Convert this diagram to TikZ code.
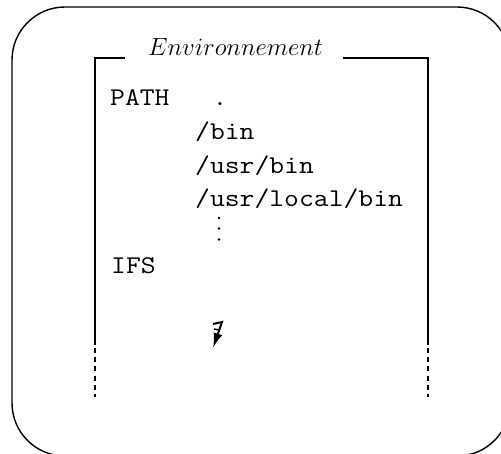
\documentclass[tikz,border=0pt]{standalone}
\usepackage{graphicx}
\usetikzlibrary{arrows.meta}
\newcommand{\ttxt}[1]{\scalebox{1.13}[1]{\fontsize{25.5}{30}\selectfont\ttfamily #1}}
\begin{document}
\begin{tikzpicture}[x=1pt,y=-1pt,
  frame/.style={line width=1.4pt},
  boxline/.style={line width=1.8pt},
  dashline/.style={line width=1.8pt, dash pattern=on 5pt off 4.2pt},
  lbl/.style={inner sep=0pt, anchor=base west},
  dotmark/.style={fill=black},
  nlarrow/.style={line width=2pt, -{Latex[length=15pt,width=9pt]}}]
\useasboundingbox (0,0) rectangle (501,454);
\clip (0,0) rectangle (501,454);
% outer rounded frame
\draw[frame, rounded corners=53pt] (12,7) rectangle (510,456);
% inner box with title gap
\node[lbl] (title) at (148,55.7) {\fontsize{24.5}{29}\selectfont $Environnement$};
\coordinate (tlA) at (125,58.3);
\coordinate (tl) at (95,58.3);
\coordinate (bl) at (95,345);
\coordinate (trA) at (343,58.3);
\coordinate (tr) at (428,58.3);
\coordinate (br) at (428,345);
\coordinate (blD) at (95,397);
\coordinate (brD) at (428,397);
\draw[boxline] (tlA) -- (tl) -- (bl);
\draw[boxline] (trA) -- (tr) -- (br);
\draw[dashline] (95,348) -- (blD);
\draw[dashline] (428,348) -- (brD);
% contents
\node[lbl] (path) at (110,106) {\ttxt{PATH}};
\node[inner sep=0pt, anchor=base] (dot) at (220,106) {\ttxt{.}};
\node[lbl] (bin) at (195,139.7) {\ttxt{/bin}};
\node[lbl] (usrbin) at (195,173.3) {\ttxt{/usr/bin}};
\node[lbl] (usrlocal) at (195,207) {\ttxt{/usr/local/bin}};
\fill[dotmark] (219,218) circle (1.3);
\fill[dotmark] (219,228.5) circle (1.3);
\fill[dotmark] (219,239.5) circle (1.3);
\node[lbl] (ifs) at (111,273.3) {\ttxt{IFS}};
% newline symbol
\coordinate (nlA) at (213,324);
\coordinate (nlB) at (222,322);
\coordinate (nlC) at (213,348);
\draw[nlarrow] (nlA) -- (nlB) -- (nlC);
\draw[line width=1.4pt] (214,329) -- (219,330);
\end{tikzpicture}
\end{document}
